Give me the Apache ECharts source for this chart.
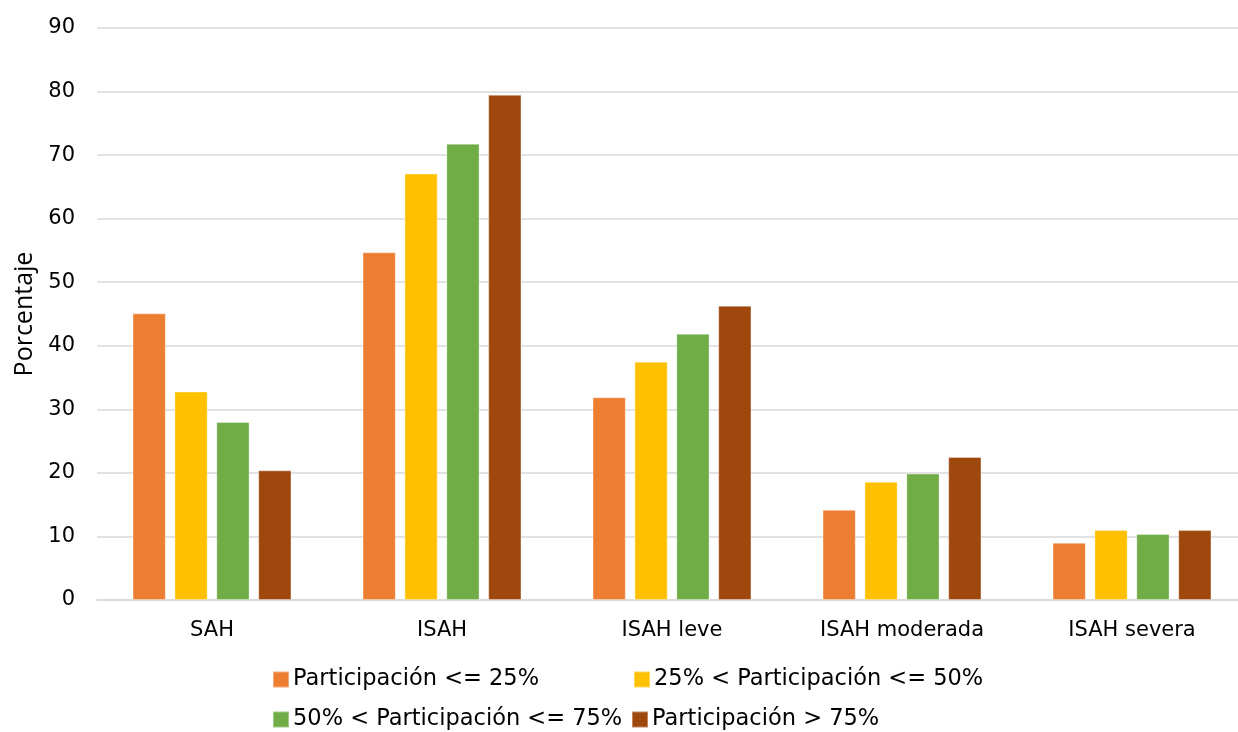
<!DOCTYPE html>
<html>
<head>
<meta charset="utf-8">
<script src="https://cdn.jsdelivr.net/npm/echarts@6/dist/echarts.min.js"></script>
<style>
  html, body { margin: 0; padding: 0; background: #ffffff; overflow: hidden; }
  #chart { width: 1238px; height: 732px; }
</style>
</head>
<body>
<div id="chart"></div>
<script>
// Categorías del eje X
const categories = ['SAH', 'ISAH', 'ISAH leve', 'ISAH moderada', 'ISAH severa'];

// Nombres de las series (grupos de participación)
const seriesNames = [
  'Participación <= 25%',
  '25% < Participación <= 50%',
  '50% < Participación <= 75%',
  'Participación > 75%'
];

// Porcentajes por serie
const part25 = [45.1, 54.7, 31.9, 14.2, 9.0];
const part25to50 = [32.8, 67.1, 37.5, 18.6, 11.0];
const part50to75 = [28.0, 71.8, 41.9, 19.9, 10.4];
const part75 = [20.4, 79.5, 46.3, 22.5, 11.0];

// Marcas del eje Y
const yTicks = { min: 0, max: 90, interval: 10 };

const colors = ['#ED7D31', '#FFC000', '#70AD47', '#9E480E'];
const values = [part25, part25to50, part50to75, part75];

const chart = echarts.init(document.getElementById('chart'), null, { renderer: 'canvas' });

const mainFont = 'DejaVu Sans, Verdana, sans-serif';

// Leyenda en cuadrícula de 2x2
const legendPos = [
  { left: 272, top: 668 },
  { left: 633, top: 668 },
  { left: 272, top: 708 },
  { left: 631, top: 708 }
];

const option = {
  animation: false,
  backgroundColor: '#ffffff',
  // el área de trazado continúa más allá del borde derecho
  grid: { left: 97, width: 1150, top: 28, bottom: 132, outerBoundsMode: 'none', containLabel: false },
  legend: seriesNames.map((name, i) => ({
    data: [name],
    left: legendPos[i].left,
    top: legendPos[i].top,
    itemWidth: 16,
    itemHeight: 16,
    icon: 'rect',
    padding: 0,
    textStyle: { fontFamily: mainFont, fontSize: 22.5, color: '#000000', padding: [0, 0, 0, -1] }
  })),
  xAxis: {
    type: 'category',
    data: categories,
    axisLine: { lineStyle: { color: '#d9d9d9', width: 1.5 } },
    axisTick: { show: false },
    axisLabel: { fontFamily: mainFont, fontSize: 21, color: '#000000', margin: 20 }
  },
  yAxis: {
    type: 'value',
    min: yTicks.min,
    max: yTicks.max,
    interval: yTicks.interval,
    name: 'Porcentaje',
    nameLocation: 'middle',
    nameGap: 60,
    nameRotate: 90,
    nameTextStyle: { fontFamily: 'Open Sans, sans-serif', fontSize: 25, color: '#000000' },
    axisLine: { show: false },
    axisTick: { show: false },
    splitLine: { lineStyle: { color: '#d9d9d9', width: 1.5 } },
    axisLabel: { fontFamily: mainFont, fontSize: 21, color: '#000000', margin: 22 }
  },
  series: seriesNames.map((name, i) => ({
    name: name,
    type: 'bar',
    data: values[i],
    barGap: '26%',
    barCategoryGap: '30.9%',
    itemStyle: { color: colors[i], borderColor: 'rgba(255,255,255,0.35)', borderWidth: 1 }
  }))
};

chart.setOption(option);
</script>
</body>
</html>
